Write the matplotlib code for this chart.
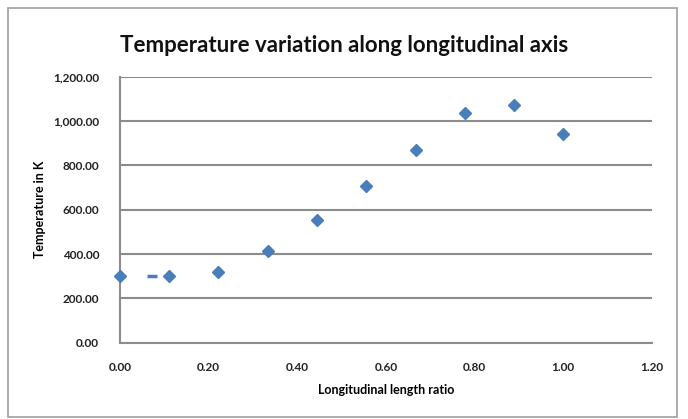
import matplotlib
matplotlib.use('Agg')
import matplotlib.pyplot as plt
from matplotlib.patches import Rectangle
from matplotlib.ticker import FuncFormatter

# longitudinal length ratio vs temperature (K)
ratio = [0.0, 0.111, 0.222, 0.333, 0.444, 0.556, 0.667, 0.778, 0.889, 1.0]
temp = [302, 302, 320, 415, 552, 705, 869, 1038, 1072, 940]
# small dash next to the second point
dash_x = [0.072]
dash_y = [302]

xticks = [0.0, 0.2, 0.4, 0.6, 0.8, 1.0, 1.2]
yticks = [0, 200, 400, 600, 800, 1000, 1200]

plt.rcParams['font.family'] = ['Lato', 'DejaVu Sans']

fig = plt.figure(figsize=(6.88, 4.19), dpi=100)
fig.patches.append(Rectangle((8/688, 2/419), 669/688, 409/419, transform=fig.transFigure,
                             fill=False, edgecolor='#a0a0a0', linewidth=1.2))
ax = fig.add_axes([0.1744, 0.1821, 0.7729, 0.6349])

ax.plot(ratio, temp, linestyle='none', marker='D', markersize=6,
        color='#4a7ebb', clip_on=False, zorder=3)
ax.plot(dash_x, dash_y, linestyle='none', marker='_', markersize=7, markeredgewidth=2.5,
        color='#4a7ebb', zorder=3)

ax.set_xlim(0, 1.2)
ax.set_ylim(0, 1200)
ax.set_xticks(xticks)
ax.set_yticks(yticks)
ax.xaxis.set_major_formatter(FuncFormatter(lambda v, p: '%.2f' % v))
ax.yaxis.set_major_formatter(FuncFormatter(lambda v, p: '{:,.2f}'.format(v)))
ax.tick_params(length=0, labelsize=8.5, colors='#222222')
ax.tick_params(axis='y', pad=15)
ax.tick_params(axis='x', pad=14)
for lab in ax.get_xticklabels() + ax.get_yticklabels():
    lab.set_fontweight('bold')

ax.grid(axis='y', color='#8c8c8c', linewidth=1.5)
ax.set_axisbelow(True)
for s in ['top', 'right']:
    ax.spines[s].set_visible(False)
for s in ['left', 'bottom']:
    ax.spines[s].set_color('#8c8c8c')
    ax.spines[s].set_linewidth(1.5)

fig.text(344/688, 1 - 45/419, 'Temperature variation along longitudinal axis', fontsize=16,
         fontweight='bold', color='#111111', ha='center', va='center')
ax.set_xlabel('Longitudinal length ratio', fontsize=9, fontweight='bold', labelpad=8)
ax.set_ylabel('Temperature in K', fontsize=9, fontweight='bold', labelpad=5)

fig.savefig('out.png', dpi=100)
